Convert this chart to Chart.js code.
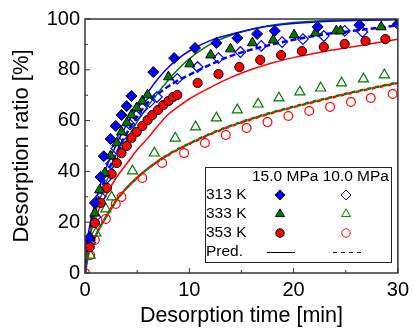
<!DOCTYPE html>
<html>
<head>
<meta charset="utf-8">
<script src="https://cdn.jsdelivr.net/npm/chart.js@4"></script>
<style>
  html, body { margin: 0; padding: 0; background: #fff; }
</style>
</head>
<body>
<canvas id="chart" width="414" height="329"></canvas>
<script>
// fonts and colours
const FONT = "'Liberation Sans', Arial, sans-serif";
const BLUE = '#0000ff';
const GREEN = '#007a00';
const RED = '#ff0000';

// axis ticks
const xMajor = [0, 10, 20, 30];
const xMinor = [5, 15, 25];
const yMajor = [0, 20, 40, 60, 80, 100];
const yMinor = [10, 30, 50, 70, 90];

// measured points, 15.0 MPa (filled)
const t313_15 = [0.4, 0.95, 1.5, 1.8, 2.45, 2.95, 3.5, 4.0, 4.45, 6.55, 8.55, 10.55, 12.6, 14.6, 16.5, 18.2, 22.3, 26.3, 30];
const v313_15 = [13.8, 27.6, 37.8, 46, 52.8, 57.9, 62.2, 65.7, 69.7, 79.1, 84.6, 88.6, 90.6, 92.5, 94.1, 95.3, 96.9, 97.6, 98];
const t333_15 = [0.5, 0.95, 1.4, 1.9, 2.45, 3.05, 3.5, 4.0, 4.45, 4.95, 5.5, 6.0, 8.0, 10.05, 12.05, 13.95, 16.05, 18.05, 20.05, 22.1, 24.1, 24.5, 28.4];
const v333_15 = [14, 23.6, 32.7, 39.4, 46.1, 51.2, 55.5, 59.1, 62.2, 65, 67.7, 70.1, 77.2, 82.3, 85.8, 88.2, 90.6, 91.7, 93.7, 94.5, 95.3, 95.3, 96.9];
const t353_15 = [0.45, 0.95, 1.5, 2.1, 2.55, 3.05, 3.5, 4.0, 4.45, 4.95, 5.5, 6.0, 6.45, 7.0, 7.5, 8.0, 8.45, 8.85, 10.8, 12.8, 14.8, 16.8, 18.8, 20.8, 22.9, 24.9, 26.9, 28.8];
const v353_15 = [10.2, 19.7, 27.6, 33.5, 39, 43.3, 47.2, 50, 53.1, 55.5, 57.9, 60.2, 62.2, 64.2, 66.1, 67.7, 69.3, 70.1, 74.8, 78.3, 81.1, 83.9, 85.8, 87.4, 89, 90.2, 91.3, 92.1];

// measured points, 10.0 MPa (open)
const t313_10 = [0.5, 1.0, 1.5, 2.0, 2.5, 3.0, 3.6, 4.3, 4.9, 5.5, 6.2, 6.9, 8.85, 10.8, 12.8, 14.9, 16.9, 18.9, 20.9, 22.9, 24.9, 26.6];
const v313_10 = [12, 22, 30, 37, 43, 49, 54, 58.5, 62, 64.8, 67.3, 69.3, 76.4, 81.1, 84.6, 87, 89.4, 90.9, 92.1, 93.3, 95.3, 94.9];
const t333_10 = [0.5, 1.05, 2.0, 2.55, 4.55, 6.65, 8.65, 10.6, 12.6, 14.6, 16.6, 18.6, 20.6, 22.6, 24.6, 26.7, 28.7];
const v333_10 = [7, 15.7, 25.2, 29.9, 40.2, 47.2, 53.1, 57.5, 61, 64.2, 66.5, 68.9, 71.3, 72.8, 74.8, 76.4, 78];
const t353_10 = [0, 0.5, 0.95, 2.0, 2.95, 3.5, 5.5, 7.4, 9.5, 11.5, 13.5, 15.5, 17.5, 19.5, 21.5, 23.5, 25.5, 27.4, 29.5];
const v353_10 = [0, 7, 13, 21.3, 27.2, 29.9, 37.4, 43.3, 47.2, 51.2, 54.3, 57.1, 59.4, 61.8, 63.8, 65.4, 67.3, 68.9, 70.5];

// predicted curves
const tPred = [0, 0.25, 0.5, 1, 1.5, 2, 3, 4, 5, 6, 7, 8, 9, 10, 12, 14, 16, 18, 20, 23, 26, 30];
const p313_15 = [0, 13.5, 19.5, 28, 35, 41, 50.5, 58.5, 65, 71, 76.5, 81, 84.6, 87.4, 91.5, 94, 96, 97.3, 98.2, 99, 99.4, 99.7];
const p333_15 = [0, 11, 16, 24, 30, 35.5, 44.5, 52.5, 59.5, 65.5, 71, 76, 80.5, 84.3, 90, 93.6, 96, 97.6, 98.6, 99.4, 99.7, 99.9];
const p353_15 = [0, 10, 15, 21.5, 26.5, 30.5, 37.5, 43, 48.5, 53, 58, 62.5, 65.6, 68.5, 73, 77, 80.2, 82.8, 84.8, 87.2, 89.3, 92];
const p313_10 = [0, 12, 17, 25, 32, 38, 47, 55, 61.5, 67, 70.5, 73.5, 76, 78, 82, 85.5, 88, 90, 91.8, 94, 95.5, 97.5];
const p333_10 = [0, 6, 9.5, 14.5, 18.5, 22, 28.5, 33.5, 37.5, 41, 44, 46.7, 49, 51, 54.8, 58, 60.8, 63.3, 65.5, 68.6, 71.5, 75];
const p353_10 = [0, 6, 9.5, 14.5, 18.5, 22, 28.5, 33.5, 37.5, 41, 44, 46.5, 48.8, 50.8, 54.6, 57.8, 60.6, 63.1, 65.3, 68.4, 71.3, 74.8];

function pts(t, v) {
    return t.map((x, i) => ({ x: x, y: v[i] }));
}

function markers(t, v, style, radius, color, filled) {
    return {
        data: pts(t, v),
        showLine: false,
        pointStyle: style,
        pointRadius: radius,
        pointHoverRadius: radius,
        pointBackgroundColor: filled ? color : 'rgba(0,0,0,0)',
        pointBorderColor: filled ? '#000' : color,
        pointBorderWidth: filled ? 1 : 1.2,
        order: 0
    };
}

function curve(v, color, width, dash, dashOffset) {
    return {
        data: pts(tPred, v),
        showLine: true,
        pointRadius: 0,
        borderColor: color,
        borderWidth: width,
        borderDash: dash,
        borderDashOffset: dashOffset || 0,
        cubicInterpolationMode: 'monotone',
        fill: false,
        order: 1
    };
}

const datasets = [
    markers(t313_15, v313_15, 'rectRot', 5.5, BLUE, true),
    markers(t333_15, v333_15, 'triangle', 5.8, GREEN, true),
    markers(t353_15, v353_15, 'circle', 4.6, RED, true),
    markers(t313_10, v313_10, 'rectRot', 5.3, BLUE, false),
    markers(t333_10, v333_10, 'triangle', 5.8, GREEN, false),
    markers(t353_10, v353_10, 'circle', 4.4, RED, false),
    curve(p313_15, BLUE, 1.5, []),
    curve(p333_15, GREEN, 1.5, []),
    curve(p353_15, RED, 1.5, []),
    curve(p313_10, BLUE, 2.5, [6, 3]),
    curve(p333_10, GREEN, 2.5, [4, 4]),
    curve(p353_10, RED, 2.5, [4, 4], 4)
];

// frame, inward ticks and the legend table
const framePlugin = {
    id: 'frame',
    afterDraw(chart) {
        const ctx = chart.ctx;
        const a = chart.chartArea;
        const xs = chart.scales.x;
        const ys = chart.scales.y;
        ctx.save();
        ctx.strokeStyle = '#333';
        ctx.lineWidth = 1.5;
        ctx.strokeRect(a.left, a.top, a.right - a.left, a.bottom - a.top);

        ctx.lineWidth = 1;
        ctx.beginPath();
        xMajor.forEach(v => { const p = xs.getPixelForValue(v); ctx.moveTo(p, a.bottom); ctx.lineTo(p, a.bottom - 5); });
        xMinor.forEach(v => { const p = xs.getPixelForValue(v); ctx.moveTo(p, a.bottom); ctx.lineTo(p, a.bottom - 3); });
        yMajor.forEach(v => { const p = ys.getPixelForValue(v); ctx.moveTo(a.left, p); ctx.lineTo(a.left + 5, p); });
        yMinor.forEach(v => { const p = ys.getPixelForValue(v); ctx.moveTo(a.left, p); ctx.lineTo(a.left + 3, p); });
        ctx.stroke();

        // legend box
        const bx = 205, by = 167, bw = 186, bh = 95;
        ctx.fillStyle = '#fff';
        ctx.fillRect(bx, by, bw, bh);
        ctx.strokeStyle = '#222';
        ctx.lineWidth = 1;
        ctx.strokeRect(bx + 0.5, by + 0.5, bw, bh);

        ctx.fillStyle = '#000';
        ctx.font = '15.5px ' + FONT;
        ctx.textBaseline = 'middle';
        ctx.textAlign = 'left';
        ctx.fillText('15.0 MPa 10.0 MPa', 252, 177);
        const rows = ['313 K', '333 K', '353 K', 'Pred.'];
        const rowY = [195, 214, 233, 252];
        rows.forEach((r, i) => ctx.fillText(r, 206, rowY[i]));

        const c1 = 280, c2 = 346;
        const H = Chart.helpers;
        const legendMarks = [
            ['rectRot', 5, BLUE],
            ['triangle', 5.2, GREEN],
            ['circle', 4.2, RED]
        ];
        legendMarks.forEach((m, i) => {
            ctx.lineWidth = 1;
            ctx.fillStyle = m[2];
            ctx.strokeStyle = '#000';
            H.drawPoint(ctx, { pointStyle: m[0], radius: m[1], borderWidth: 1 }, c1, rowY[i]);
            ctx.fillStyle = 'rgba(0,0,0,0)';
            ctx.strokeStyle = m[2];
            H.drawPoint(ctx, { pointStyle: m[0], radius: m[1], borderWidth: 1 }, c2, rowY[i]);
        });

        ctx.strokeStyle = '#000';
        ctx.lineWidth = 1;
        ctx.beginPath();
        ctx.moveTo(267, 252.5);
        ctx.lineTo(295, 252.5);
        ctx.stroke();
        ctx.setLineDash([4, 4]);
        ctx.beginPath();
        ctx.moveTo(333, 252.5);
        ctx.lineTo(365, 252.5);
        ctx.stroke();
        ctx.restore();
    }
};

new Chart(document.getElementById('chart'), {
    type: 'scatter',
    data: { datasets: datasets },
    options: {
        responsive: false,
        animation: false,
        layout: { padding: { top: 19, right: 13, left: 0, bottom: 0 } },
        plugins: {
            legend: { display: false },
            tooltip: { enabled: false }
        },
        scales: {
            x: {
                type: 'linear',
                min: 0,
                max: 30,
                afterFit: s => { s.height = 56; },
                grid: { display: false, drawTicks: false },
                border: { display: false },
                ticks: { stepSize: 10, padding: 5, color: '#000', font: { family: FONT, size: 20 } },
                title: { display: true, text: 'Desorption time [min]', color: '#000', padding: { top: 0, bottom: 0 }, font: { family: FONT, size: 21.5 } }
            },
            y: {
                type: 'linear',
                min: 0,
                max: 100,
                afterFit: s => { s.width = 85; },
                grid: { display: false, drawTicks: false },
                border: { display: false },
                ticks: { stepSize: 20, padding: 5, color: '#000', font: { family: FONT, size: 20 } },
                title: { display: true, text: 'Desorption ratio [%]', color: '#000', padding: { top: 9, bottom: 0 }, font: { family: FONT, size: 22 } }
            }
        }
    },
    plugins: [framePlugin]
});
</script>
</body>
</html>
